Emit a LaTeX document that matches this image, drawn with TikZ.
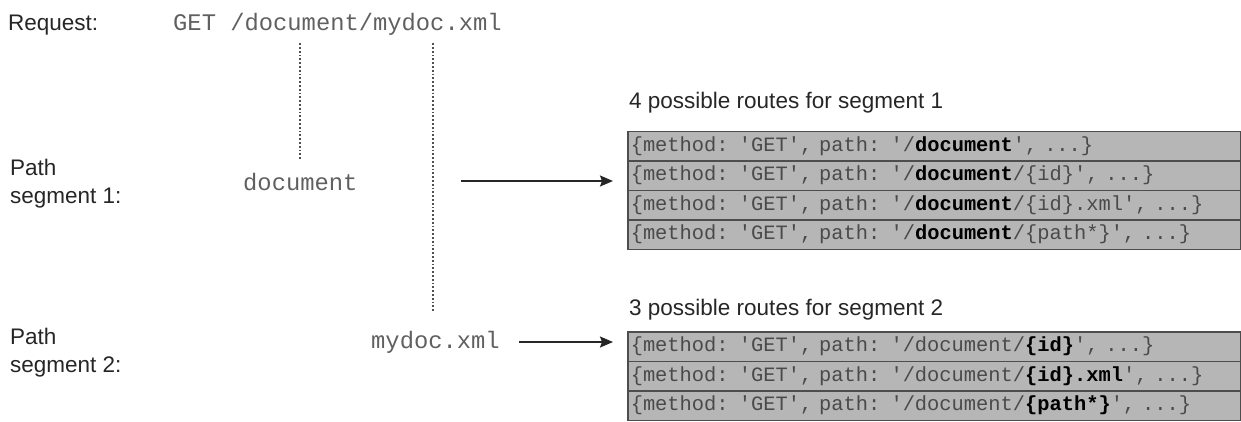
\documentclass[tikz,border=0pt]{standalone}
\usepackage{fontspec}
\setmainfont{Liberation Sans}
\setmonofont{Liberation Mono}
\usetikzlibrary{arrows.meta,calc}
\definecolor{rowfill}{HTML}{B6B6B6}
\definecolor{rowline}{HTML}{4D4D4D}
\definecolor{codegray}{HTML}{4A4A4A}
\definecolor{reqgray}{HTML}{606060}
\definecolor{dotgray}{HTML}{505050}
\definecolor{labelgray}{HTML}{262626}
\newcommand{\bd}[1]{\textcolor{black}{\bfseries #1}}
\begin{document}
\begin{tikzpicture}[x=1pt,y=-1pt,
  lbl/.style={font=\fontsize{22.5}{28}\selectfont, text=labelgray, inner sep=0pt, anchor=base west, align=left},
  reqtext/.style={font=\ttfamily\fontsize{23.8}{28}\selectfont, text=reqgray, inner sep=0pt, anchor=base west},
  rowbox/.style={draw=rowline, line width=1.5pt, fill=rowfill, anchor=north west,
    minimum width=613pt, minimum height=29.5pt, text width=607pt, inner xsep=3pt, inner ysep=0pt,
    align=left, font=\ttfamily\fontsize{20.4}{24}\selectfont, text=codegray, text height=14pt, text depth=4pt},
  dotline/.style={draw=dotgray, line width=2pt, dash pattern=on 1.8pt off 2pt},
  arr/.style={draw=labelgray, line width=1.8pt, -{Stealth[length=13pt,width=11pt,inset=2pt]}}]
\useasboundingbox (0,0) rectangle (1241,421);

% left labels (base anchor = last line baseline)
\node[lbl] (lreq) at (8,30) {Request:};
\node[lbl] (lseg1) at (10,203) {Path\\segment 1:};
\node[lbl] (lseg2) at (10,372) {Path\\segment 2:};

% request and segments
\node[reqtext] (req) at (173,30) {GET /document/mydoc.xml};
\node[reqtext] (doc) at (243,190) {document};
\node[reqtext] (mydoc) at (371,348) {mydoc.xml};

% dotted guides
\draw[dotline, shorten <=8pt, shorten >=12pt] (doc.north |- req.south) -- (doc.north);
\draw[dotline, shorten <=8pt, shorten >=20pt] ($(mydoc.north |- req.south)+(-2,0)$) -- ($(mydoc.north)+(-2,0)$);

% headings
\node[lbl] (h1) at (629,108) {4 possible routes for segment 1};
\node[lbl] (h2) at (629,315) {3 possible routes for segment 2};

% table 1
\node[rowbox] (r1a) at (627,130.5) {\{method: 'GET', path: '/\bd{document}', ...\}};
\node[rowbox] (r1b) at (627,160) {\{method: 'GET', path: '/\bd{document}/\{id\}', ...\}};
\node[rowbox] (r1c) at (627,189.5) {\{method: 'GET', path: '/\bd{document}/\{id\}.xml', ...\}};
\node[rowbox] (r1d) at (627,219) {\{method: 'GET', path: '/\bd{document}/\{path*\}', ...\}};

% table 2
\node[rowbox] (r2a) at (627,331) {\{method: 'GET', path: '/document/\bd{\{id\}}', ...\}};
\node[rowbox] (r2b) at (627,360.5) {\{method: 'GET', path: '/document/\bd{\{id\}.xml}', ...\}};
\node[rowbox] (r2c) at (627,390) {\{method: 'GET', path: '/document/\bd{\{path*\}}', ...\}};

% arrows
\coordinate (a1s) at (461,181);
\draw[arr, shorten >=14pt] (a1s) -- (a1s -| r1b.west);
\draw[arr, shorten <=19pt, shorten >=14pt] (mydoc.east |- 0,342) -- (r2a.west |- 0,342);
\end{tikzpicture}
\end{document}
